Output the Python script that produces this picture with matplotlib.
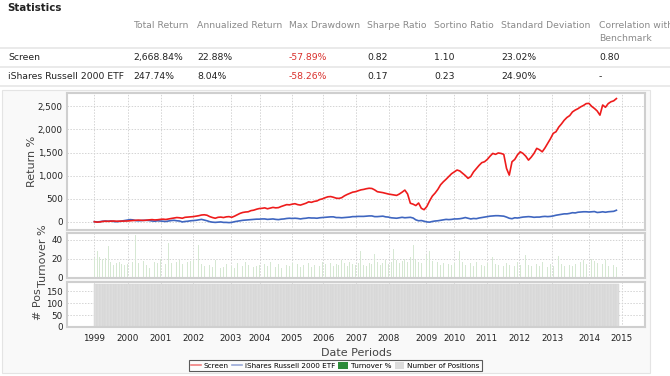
import numpy as np
import matplotlib

matplotlib.use('Agg')
from matplotlib import pyplot as plt
from matplotlib.lines import Line2D
from matplotlib.patches import Patch, Rectangle

plt.rcParams['font.family'] = ['DejaVu Sans']

# monthly observations, Jan 1999 .. Nov 2014
START_YEAR = 1999

screen = [
    0, -10, -5, 5, 10, 8, 12, 15, 10, 12, 15, 14,
    15, 20, 25, 30, 35, 30, 28, 35, 40, 45, 38, 42,
    50, 55, 48, 60, 70, 80, 90, 85, 75, 95, 100, 105,
    110, 120, 130, 145, 150, 140, 110, 90, 75, 95, 100, 90,
    105, 110, 95, 120, 150, 180, 200, 210, 215, 240, 250, 270,
    285, 290, 300, 280, 295, 310, 300, 305, 330, 350, 370, 365,
    380, 390, 370, 360, 380, 400, 430, 420, 440, 450, 480, 495,
    520, 540, 545, 530, 510, 505, 520, 560, 590, 615, 640, 650,
    670, 690, 700, 715, 725, 720, 690, 650, 640, 630, 615, 600,
    590, 580, 570, 600, 640, 685, 600, 400, 380, 350, 405, 290,
    260, 330, 450, 555, 620, 700, 800, 865, 920, 980, 1040, 1080,
    1120, 1100, 1050, 1000, 940, 980, 1080, 1150, 1220, 1280, 1300, 1350,
    1420, 1480, 1460, 1490, 1480, 1460, 1155, 1010, 1300, 1350, 1450, 1515,
    1480, 1420, 1335, 1400, 1480, 1590, 1560, 1515, 1600, 1700, 1800, 1915,
    1950, 2050, 2120, 2200, 2260, 2300, 2380, 2420, 2450, 2490, 2520, 2560,
    2565, 2500, 2455, 2400, 2310, 2530, 2480, 2560, 2600, 2620, 2669,
]

russell = [
    0, -5, 0, 10, 15, 10, 15, 5, 0, 5, 15, 25,
    35, 45, 40, 25, 20, 25, 30, 30, 25, 15, 10, 20,
    15, 10, 5, 15, 25, 30, 20, 15, -5, 5, 10, 20,
    25, 30, 40, 50, 35, 20, 0, -10, -15, -10, -5, -15,
    -15, -20, -15, 0, 10, 20, 30, 35, 40, 45, 50, 55,
    55, 60, 60, 50, 55, 60, 50, 45, 55, 60, 70, 75,
    70, 75, 70, 60, 70, 75, 85, 80, 80, 75, 85, 90,
    95, 100, 105, 105, 90, 90, 85, 90, 95, 100, 110, 110,
    115, 115, 115, 120, 125, 125, 110, 110, 115, 120, 105, 100,
    85, 80, 75, 85, 95, 85, 90, 95, 80, 40, 20, 25,
    10, -5, -10, 5, 15, 20, 30, 40, 50, 45, 50, 60,
    60, 65, 75, 90, 75, 60, 70, 65, 80, 90, 100, 110,
    120, 125, 130, 130, 125, 120, 100, 75, 65, 85, 80, 90,
    100, 105, 110, 105, 95, 100, 100, 110, 115, 110, 115, 125,
    140, 150, 160, 170, 170, 180, 195, 190, 205, 210, 215, 215,
    210, 215, 220, 200, 205, 215, 205, 215, 220, 225, 248,
]

turnover = [
    21, 28, 22, 20, 21, 33, 16, 13, 15, 16, 14, 13,
    14, 15, 16, 45, 15, 17, 17, 13, 10, 14, 16, 15,
    20, 18, 14, 36, 15, 13, 16, 18, 14, 12, 16, 17,
    18, 19, 34, 14, 12, 16, 13, 11, 18, 12, 10, 11,
    14, 32, 12, 10, 15, 14, 12, 16, 13, 14, 11, 12,
    13, 30, 14, 12, 16, 13, 11, 14, 10, 12, 13, 12,
    15, 32, 14, 11, 13, 12, 15, 11, 13, 14, 12, 16,
    14, 30, 15, 12, 14, 13, 18, 15, 12, 16, 14, 13,
    15, 28, 13, 12, 15, 14, 25, 16, 13, 15, 18, 14,
    16, 30, 18, 15, 17, 20, 16, 22, 34, 18, 16, 15,
    20, 24, 28, 17, 14, 16, 13, 15, 12, 14, 13, 15,
    14, 28, 16, 13, 14, 15, 12, 16, 14, 13, 12, 15,
    16, 22, 14, 13, 17, 12, 15, 13, 14, 12, 16, 13,
    14, 24, 13, 12, 15, 14, 12, 16, 13, 11, 14, 12,
    15, 23, 14, 12, 18, 13, 12, 14, 13, 16, 18, 14,
    16, 20, 17, 15, 13, 14, 18, 12, 14, 13, 11,
]

n_positions = 180

year_labels = [str(y) for y in range(1999, 2016)]
year_ticks = [1999.0, 2000.01, 2001.02, 2002.0, 2003.14, 2004.02, 2004.99, 2005.94,
              2006.94, 2007.93, 2009.06, 2009.91, 2010.9, 2011.89, 2012.88, 2014.01, 2015.0]

stat_cols = ['Total Return', 'Annualized Return', 'Max Drawdown', 'Sharpe Ratio',
             'Sortino Ratio', 'Standard Deviation', 'Correlation with\nBenchmark']
stat_rows = ['Screen', 'iShares Russell 2000 ETF']
stat_vals = [
    ['2,668.84%', '22.88%', '-57.89%', '0.82', '1.10', '23.02%', '0.80'],
    ['247.74%', '8.04%', '-58.26%', '0.17', '0.23', '24.90%', '-'],
]

RED = '#ee1c1c'
BLUE = '#3f66c0'
GRID = '#d4d4d4'
SPINE = '#cfcfcf'

W, H = 670, 376
fig = plt.figure(figsize=(W / 100, H / 100), dpi=100)
fig.patch.set_facecolor('white')


def fx(px):
    return px / W


def fy(py):
    return 1 - py / H


# chart panel background
fig.patches.append(Rectangle((fx(2), fy(373)), fx(650) - fx(2), fy(90) - fy(373),
                             transform=fig.transFigure, facecolor='#f9f9f9',
                             edgecolor='#e4e4e4', lw=0.8, zorder=-5))

# statistics table
fig.text(fx(7), fy(8), 'Statistics', fontsize=7.4, fontweight='bold', color='#222',
         va='center', ha='left')
col_x = [133, 197, 289, 367, 434, 501, 599]
for cx, name in zip(col_x, stat_cols):
    fig.text(fx(cx), fy(21.5), name, fontsize=6.7, color='#8a8a8a', va='top', ha='left',
             linespacing=1.45)
for py in [48, 67, 86]:
    fig.add_artist(Line2D([0, 1], [fy(py), fy(py)], color='#e6e6e6', lw=1.2,
                          transform=fig.transFigure))
for row_y, label, vals in zip([57.5, 76.5], stat_rows, stat_vals):
    fig.text(fx(8), fy(row_y), label, fontsize=6.7, color='#222', va='center', ha='left')
    for cx, v in zip(col_x, vals):
        c = '#d9302c' if v.startswith('-') and len(v) > 1 else '#222'
        fig.text(fx(cx), fy(row_y), v, fontsize=6.7, color=c, va='center', ha='left')

t = START_YEAR + np.arange(len(screen)) / 12.0
xlim = (1998.17, 2015.7)

ax1 = fig.add_axes([fx(67), fy(230), fx(645) - fx(67), fy(93) - fy(230)])
ax2 = fig.add_axes([fx(67), fy(278), fx(645) - fx(67), fy(233) - fy(278)])
ax3 = fig.add_axes([fx(67), fy(327), fx(645) - fx(67), fy(282) - fy(327)])

ax1.plot(t, russell, color=BLUE, lw=1.2, zorder=3)
ax1.plot(t, screen, color=RED, lw=1.2, zorder=4)
ax1.set_ylim(-180, 2790)
ax1.set_yticks([0, 500, 1000, 1500, 2000, 2500])
ax1.set_yticklabels(['0', '500', '1,000', '1,500', '2,000', '2,500'])
ax1.set_ylabel('Return %', fontsize=8, color='#444')

ax2.bar(t, turnover, width=0.025, color='#d6e8d3', zorder=2)
ax2.set_ylim(-0.6, 47)
ax2.set_yticks([0, 20, 40])
ax2.set_ylabel('Turnover %', fontsize=8, color='#444')

ax3.bar(t, [n_positions] * len(t), width=1 / 12, align='edge', color='#dddddd',
        edgecolor='#d3d3d3', lw=0.3, zorder=2)
ax3.set_ylim(0, 190)
ax3.set_yticks([0, 50, 100, 150])
ax3.set_ylabel('# Pos', fontsize=8, color='#444')

# right edge of each rotated label, in pixels from the figure's left edge
for ax, lx in ((ax1, 37), (ax2, 48), (ax3, 43)):
    ax.yaxis.set_label_coords((lx - 67) / 578, 0.5)

for ax in (ax1, ax2, ax3):
    ax.set_facecolor('white')
    ax.set_xlim(*xlim)
    ax.set_xticks(year_ticks)
    ax.grid(True, color=GRID, ls=(0, (1.5, 1.5)), lw=0.7)
    ax.set_axisbelow(True)
    ax.tick_params(length=0, labelsize=6.3, colors='#222', pad=3)
    for s in ax.spines.values():
        s.set_color(SPINE)
        s.set_linewidth(1.5)
    ax.set_xticklabels([])
ax3.set_xticklabels(year_labels)
ax3.tick_params(axis='x', pad=5)
ax3.set_xlabel('Date Periods', fontsize=8, color='#444', labelpad=4)

handles = [Line2D([], [], color='#f08080', lw=1.2),
           Line2D([], [], color='#9aaad8', lw=1.2),
           Patch(facecolor='#2e8b3a', edgecolor='none'),
           Patch(facecolor='#dcdcdc', edgecolor='none')]
labels = ['Screen', 'iShares Russell 2000 ETF', 'Turnover %', 'Number of Positions']
leg = fig.legend(handles, labels, loc='center', bbox_to_anchor=(fx(335.5), fy(365.5)),
                 ncol=4, fontsize=5.2, frameon=True, fancybox=False, handlelength=1.3,
                 handletextpad=0.4, columnspacing=0.5, borderpad=0.35,
                 handleheight=1.0)
leg.get_frame().set_edgecolor('#333')
leg.get_frame().set_linewidth(0.8)

fig.savefig('out.png', dpi=100, facecolor=fig.get_facecolor())
